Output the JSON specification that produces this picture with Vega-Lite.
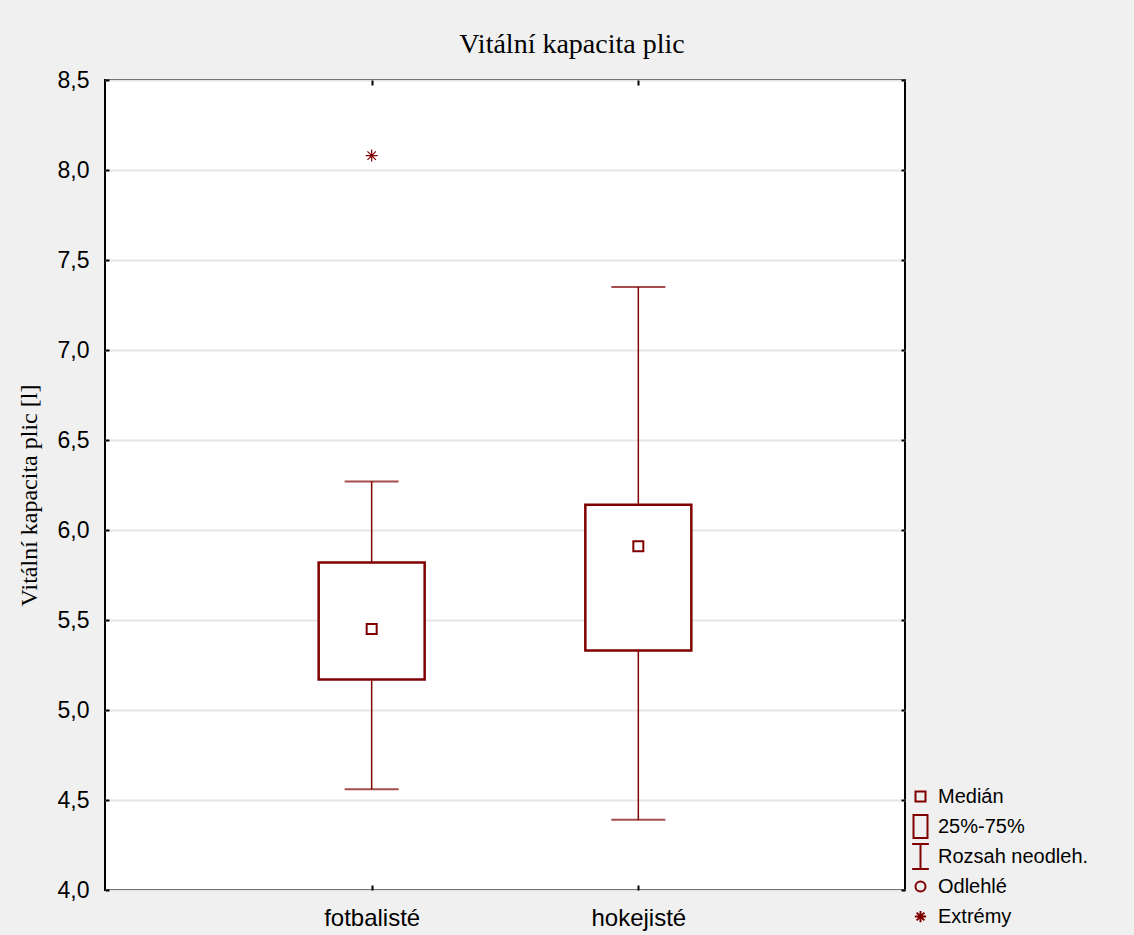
{
  "$schema": "https://vega.github.io/schema/vega-lite/v6.json",
  "width": 800,
  "height": 810,
  "autosize": {"type": "none"},
  "padding": {"left": 105, "top": 80, "right": 229, "bottom": 45},
  "background": "#f0f0f0",
  "view": {"fill": "#ffffff", "stroke": "#000000", "strokeWidth": 2},
  "title": {
    "text": "Vitální kapacita plic",
    "font": "Liberation Serif",
    "fontSize": 28,
    "fontWeight": "normal",
    "color": "#000000",
    "anchor": "middle",
    "dx": 67,
    "offset": 10
  },
  "config": {
    "axis": {
      "labelFont": "Liberation Sans",
      "labelFontSize": 23,
      "labelColor": "#000000",
      "titleFont": "Liberation Serif",
      "titleFontSize": 24,
      "titleFontWeight": "normal",
      "titleColor": "#000000",
      "domain": false,
      "tickColor": "#000000",
      "tickWidth": 2
    }
  },
  "datasets": {
    "stats": [
      {"grupa": "fotbalisté", "low": 4.56, "q1": 5.17, "median": 5.45, "q3": 5.82, "high": 6.27},
      {"grupa": "hokejisté", "low": 4.39, "q1": 5.33, "median": 5.91, "q3": 6.14, "high": 7.35}
    ],
    "extremes": [
      {"grupa": "fotbalisté", "value": 8.08}
    ],
    "legendItems": [
      {"item": "Medián"},
      {"item": "25%-75%"},
      {"item": "Rozsah neodleh."},
      {"item": "Odlehlé"},
      {"item": "Extrémy"}
    ]
  },
  "resolve": {"axis": {"x": "independent", "y": "independent"}},
  "layer": [
    {
      "data": {"name": "stats"},
      "mark": {"type": "rule", "color": "#800000", "strokeWidth": 1.5},
      "encoding": {
        "x": {
          "field": "grupa", "type": "nominal",
          "scale": {"type": "point", "padding": 1, "domain": ["fotbalisté", "hokejisté"]},
          "axis": {"title": null, "labelAngle": 0, "tickSize": -5, "labelPadding": 21, "labelFontSize": 24, "grid": false}
        },
        "y": {
          "field": "low", "type": "quantitative",
          "scale": {"domain": [4, 8.5], "nice": false, "zero": false},
          "axis": {
            "title": "Vitální kapacita plic [l]",
            "values": [4, 4.5, 5, 5.5, 6, 6.5, 7, 7.5, 8, 8.5],
            "labelExpr": "replace(format(datum.value, '.1f'), '.', ',')",
            "tickSize": -4,
            "labelPadding": 20,
            "titleX": -69,
            "titleY": 415,
            "titleAngle": 270,
            "titleAlign": "center",
            "titleBaseline": "alphabetic",
            "grid": true,
            "gridColor": "#e6e6e6",
            "gridWidth": 2
          }
        },
        "y2": {"field": "high"}
      }
    },
    {
      "data": {"name": "stats"},
      "mark": {"type": "bar", "width": 106, "fill": "#ffffff", "stroke": "#800000", "strokeWidth": 2.5},
      "encoding": {
        "x": {"field": "grupa", "type": "nominal", "axis": {"orient": "top", "labels": false, "title": null, "tickSize": -5, "grid": false}},
        "y": {"field": "q1", "type": "quantitative", "axis": {"orient": "right", "labels": false, "title": null, "tickSize": -4, "grid": false, "values": [4, 4.5, 5, 5.5, 6, 6.5, 7, 7.5, 8, 8.5]}},
        "y2": {"field": "q3"}
      }
    },
    {
      "data": {"name": "stats"},
      "mark": {"type": "tick", "color": "#800000", "size": 54, "thickness": 2},
      "encoding": {
        "x": {"field": "grupa", "type": "nominal", "axis": null},
        "y": {"field": "low", "type": "quantitative", "axis": null}
      }
    },
    {
      "data": {"name": "stats"},
      "mark": {"type": "tick", "color": "#800000", "size": 54, "thickness": 2},
      "encoding": {
        "x": {"field": "grupa", "type": "nominal", "axis": null},
        "y": {"field": "high", "type": "quantitative", "axis": null}
      }
    },
    {
      "data": {"name": "stats"},
      "mark": {"type": "point", "shape": "square", "size": 100, "filled": false, "color": "#800000", "strokeWidth": 2, "opacity": 1},
      "encoding": {
        "x": {"field": "grupa", "type": "nominal", "axis": null},
        "y": {"field": "median", "type": "quantitative", "axis": null}
      }
    },
    {
      "data": {"name": "extremes"},
      "mark": {"type": "point", "shape": "M-1,0L1,0M0,-1L0,1M-0.7,-0.7L0.7,0.7M-0.7,0.7L0.7,-0.7", "size": 144, "filled": false, "color": "#800000", "strokeWidth": 1.2, "opacity": 1},
      "encoding": {
        "x": {"field": "grupa", "type": "nominal", "axis": null},
        "y": {"field": "value", "type": "quantitative", "axis": null}
      }
    },
    {
      "data": {"name": "legendItems"},
      "mark": {"type": "point", "filled": false, "opacity": 0, "color": "#800000"},
      "encoding": {
        "shape": {
          "field": "item", "type": "nominal",
          "scale": {
            "domain": ["Medián", "25%-75%", "Rozsah neodleh.", "Odlehlé", "Extrémy"],
            "range": [
              "M-1,-1M1,1M-0.4,-0.4H0.4V0.4H-0.4Z",
              "M-1,-1M1,1M-0.56,-0.92H0.56V0.92H-0.56Z",
              "M-1,-1M1,1M-0.67,-1H0.67M0,-1V1M-0.67,1H0.67",
              "M-1,-1M1,1M0.4,0A0.4,0.4 0 1,1 -0.4,0A0.4,0.4 0 1,1 0.4,0Z",
              "M-1,-1M1,1M-0.45,0L0.45,0M0,-0.45L0,0.45M-0.31,-0.31L0.31,0.31M-0.31,0.31L0.31,-0.31"
            ]
          },
          "legend": {
            "orient": "none",
            "legendX": 802,
            "legendY": 703,
            "title": null,
            "padding": 0,
            "symbolSize": 625,
            "symbolStrokeColor": "#800000",
            "symbolStrokeWidth": 2,
            "symbolFillColor": "transparent",
            "symbolOpacity": 1,
            "labelFont": "Liberation Sans",
            "labelFontSize": 20,
            "labelColor": "#000000",
            "labelOffset": 4,
            "rowPadding": -3,
            "labelLimit": 300,
            "encode": {"symbols": {"update": {"opacity": {"value": 1}}}}
          }
        }
      }
    }
  ]
}
